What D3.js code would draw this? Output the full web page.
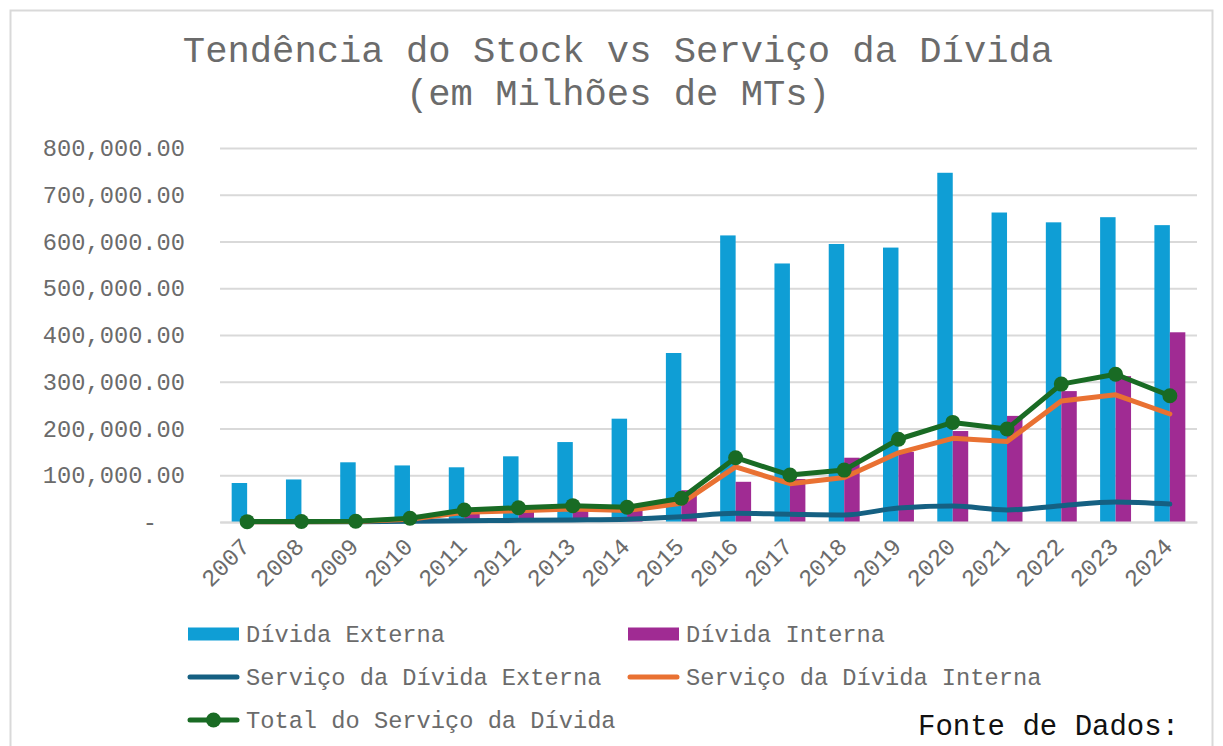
<!DOCTYPE html>
<html>
<head>
<meta charset="utf-8">
<script src="https://cdn.jsdelivr.net/npm/d3@7"></script>
<style>
  body { margin: 0; background: #fff; }
  text { font-family: "Liberation Mono", "Courier New", monospace; }
</style>
</head>
<body>
<svg id="chart" width="1223" height="746"></svg>
<script>
// values (milhões de MTs)
var years = ['2007','2008','2009','2010','2011','2012','2013','2014','2015','2016','2017','2018','2019','2020','2021','2022','2023','2024'];
var dividaExterna = [83400, 91000, 127700, 121000, 117000, 140500, 171000, 221000, 361500, 613000, 553000, 594700, 587000, 747000, 662000, 641000, 652000, 635000];
var dividaInterna = [2000, 2000, 3000, 5000, 18000, 24000, 27000, 27000, 68000, 86000, 92000, 137500, 150000, 194600, 227000, 280000, 312000, 405800];
var servicoExterna = [300, 400, 500, 1500, 2500, 3500, 4500, 6000, 11000, 18600, 16500, 15000, 30000, 34000, 25700, 35000, 43000, 38500];
var servicoInterna = [500, 600, 1000, 6000, 21000, 24000, 28000, 24500, 40000, 118000, 82000, 95000, 148000, 179000, 172000, 259000, 272000, 231000];
var totalServico = [800, 1000, 1500, 8000, 25700, 30600, 35000, 31400, 50700, 137500, 100500, 111000, 177000, 213000, 199000, 295000, 316000, 270000];
var yTicks = [0, 100000, 200000, 300000, 400000, 500000, 600000, 700000, 800000];

(function () {
  var barSeries = [
    { name: 'Dívida Externa', values: dividaExterna, color: '#0F9ED5' },
    { name: 'Dívida Interna', values: dividaInterna, color: '#A02B93' }
  ];
  var lineSeries = [
    { name: 'Serviço da Dívida Externa', values: servicoExterna, color: '#156082', curve: d3.curveMonotoneX },
    { name: 'Serviço da Dívida Interna', values: servicoInterna, color: '#E97132', curve: d3.curveLinear },
    { name: 'Total do Serviço da Dívida', values: totalServico, color: '#196B24', curve: d3.curveLinear, marker: true }
  ];

  var textColor = '#6b6b6b';
  var svg = d3.select('#chart');

  // chart border
  svg.append('rect')
    .attr('x', 10.5).attr('y', 10.5)
    .attr('width', 1202).attr('height', 800)
    .attr('fill', 'none').attr('stroke', '#d9d9d9').attr('stroke-width', 2);

  // title
  var title = svg.append('text')
    .attr('text-anchor', 'middle')
    .attr('fill', textColor).style('font-size', '37.2px');
  title.append('tspan').attr('x', 618).attr('y', 62).text('Tendência do Stock vs Serviço da Dívida');
  title.append('tspan').attr('x', 618).attr('y', 105).text('(em Milhões de MTs)');

  var plotLeft = 220, plotRight = 1197, plotTop = 148, plotBottom = 522;

  var x = d3.scaleBand().domain(years).range([plotLeft, plotRight])
    .paddingInner(0.43).paddingOuter(0.215);
  var xSub = d3.scaleBand().domain(barSeries.map(function(s){ return s.name; }))
    .range([0, x.bandwidth()]);
  var y = d3.scaleLinear().domain([0, 800000]).range([plotBottom, plotTop]);

  // grid
  svg.append('g')
    .attr('transform', 'translate(' + plotLeft + ',0)')
    .call(d3.axisLeft(y).tickValues(yTicks).tickSize(-(plotRight - plotLeft)).tickFormat(''))
    .call(function(g) {
      g.select('.domain').remove();
      g.selectAll('line').attr('stroke', '#d9d9d9').attr('stroke-width', 2);
    });

  // y labels
  var fmt = d3.format(',.2f');
  svg.append('g')
    .attr('transform', 'translate(' + plotLeft + ',0)')
    .call(d3.axisLeft(y).tickValues(yTicks).tickSize(0).tickPadding(35)
      .tickFormat(function(d) { return d === 0 ? '-' : fmt(d); }))
    .call(function(g) {
      g.select('.domain').remove();
      g.selectAll('text')
        .attr('fill', textColor)
        .style('font-size', '23.7px')
        .style('font-family', '"Liberation Mono", "Courier New", monospace')
        .attr('dx', function(d) { return d === 0 ? -28 : 0; });
    });

  // bars
  barSeries.forEach(function(s) {
    svg.append('g').selectAll('rect')
      .data(s.values)
      .join('rect')
      .attr('x', function(d, i) { return x(years[i]) + xSub(s.name); })
      .attr('y', function(d) { return y(d); })
      .attr('width', xSub.bandwidth())
      .attr('height', function(d) { return y(0) - y(d); })
      .attr('fill', s.color);
  });

  // x axis
  svg.append('g')
    .attr('transform', 'translate(0,' + plotBottom + ')')
    .call(d3.axisBottom(x).tickSize(0).tickFormat(''))
    .call(function(g) {
      g.select('.domain').attr('stroke', '#d9d9d9').attr('stroke-width', 2);
    });

  svg.append('g').selectAll('text')
    .data(years)
    .join('text')
    .attr('transform', function(d) {
      return 'translate(' + (x(d) + x.bandwidth() / 2 + 4) + ',' + (plotBottom + 26) + ') rotate(-45)';
    })
    .attr('text-anchor', 'end')
    .attr('fill', textColor)
    .style('font-size', '23.7px')
    .text(function(d) { return d; });

  // lines
  lineSeries.forEach(function(s) {
    var line = d3.line()
      .x(function(d, i) { return x(years[i]) + x.bandwidth() / 2; })
      .y(function(d) { return y(d); })
      .curve(s.curve);
    svg.append('path')
      .datum(s.values)
      .attr('d', line)
      .attr('fill', 'none')
      .attr('stroke', s.color)
      .attr('stroke-width', 5)
      .attr('stroke-linejoin', 'round')
      .attr('stroke-linecap', 'round');
    if (s.marker) {
      svg.append('g').selectAll('circle')
        .data(s.values)
        .join('circle')
        .attr('cx', function(d, i) { return x(years[i]) + x.bandwidth() / 2; })
        .attr('cy', function(d) { return y(d); })
        .attr('r', 7.5)
        .attr('fill', s.color);
    }
  });

  // legend
  var legendItems = [
    { s: barSeries[0], type: 'bar', x: 188, y: 634 },
    { s: barSeries[1], type: 'bar', x: 628, y: 634 },
    { s: lineSeries[0], type: 'line', x: 188, y: 677 },
    { s: lineSeries[1], type: 'line', x: 628, y: 677 },
    { s: lineSeries[2], type: 'line', x: 188, y: 720 }
  ];
  var lg = svg.append('g').selectAll('g').data(legendItems).join('g')
    .attr('transform', function(d) { return 'translate(' + d.x + ',' + d.y + ')'; });
  lg.each(function(d) {
    var g = d3.select(this);
    if (d.type === 'bar') {
      g.append('rect').attr('x', 0).attr('y', -6.5).attr('width', 51).attr('height', 13).attr('fill', d.s.color);
    } else {
      g.append('line').attr('x1', 2).attr('x2', 49).attr('y1', 0).attr('y2', 0)
        .attr('stroke', d.s.color).attr('stroke-width', 5).attr('stroke-linecap', 'round');
      if (d.s.marker) {
        g.append('circle').attr('cx', 25.5).attr('cy', 0).attr('r', 7.5).attr('fill', d.s.color);
      }
    }
    g.append('text').attr('x', 58).attr('y', 0).attr('dy', '0.35em')
      .attr('fill', textColor).style('font-size', '23.7px')
      .text(d.s.name);
  });

  // source note
  svg.append('text')
    .attr('x', 918).attr('y', 735)
    .attr('fill', '#111').style('font-size', '29px')
    .text('Fonte de Dados:');
})();
</script>
</body>
</html>
